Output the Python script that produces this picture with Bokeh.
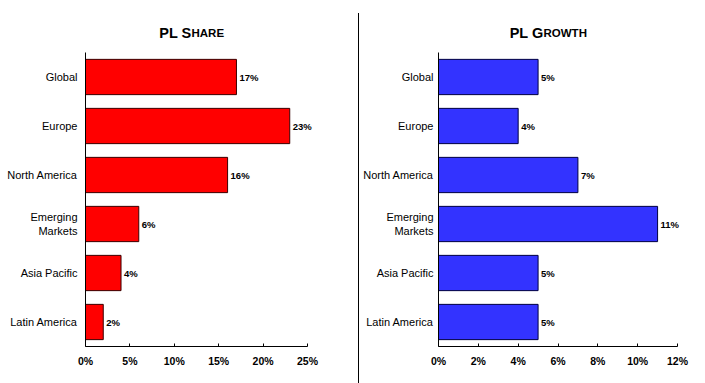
from bokeh.plotting import figure
from bokeh.layouts import row, column
from bokeh.models import FactorRange, Range1d, FixedTicker, PrintfTickFormatter, ColumnDataSource, LabelSet, Div
from bokeh.core.properties import value
from bokeh.embed import file_html
from bokeh.resources import INLINE

categories = ["Global", "Europe", "North America", "Emerging Markets", "Asia Pacific", "Latin America"]
category_labels = ["Global", "Europe", "North America", "Emerging\nMarkets", "Asia Pacific", "Latin America"]
share_values = [17, 23, 16, 6, 4, 2]
growth_values = [5, 4, 7, 11, 5, 5]
share_ticks = [0, 5, 10, 15, 20, 25]
growth_ticks = [0, 2, 4, 6, 8, 10, 12]

FONT = "Liberation Sans"
TITLE_H = 52
MAIN_H = 331


def make_panel(values, ticks, axis_max, color, line_color, width, border_left,
               axis_px, frame_px, standoff):
    factors = list(reversed(category_labels))
    xmax = axis_max * frame_px / axis_px
    p = figure(width=width, height=MAIN_H, y_range=FactorRange(*factors),
               x_range=Range1d(0, xmax), toolbar_location=None, output_backend="svg",
               min_border_left=border_left, min_border_right=width - border_left - frame_px,
               min_border_top=0, min_border_bottom=MAIN_H - 294)
    p.outline_line_color = None
    p.grid.grid_line_color = None
    src = ColumnDataSource(dict(cat=category_labels, val=values,
                                lab=[f"{v}%" for v in values]))
    p.hbar(y="cat", right="val", left=0, height=0.72, source=src,
           fill_color=color, line_color=line_color, line_width=1)
    labels = LabelSet(x="val", y="cat", text="lab", source=src, x_offset=3,
                      text_baseline="middle", text_font=value(FONT), text_font_size="9.5px",
                      text_font_style="bold", text_color="black")
    p.add_layout(labels)

    p.xaxis.bounds = (0, axis_max)
    p.xaxis.ticker = FixedTicker(ticks=ticks)
    p.xaxis.formatter = PrintfTickFormatter(format="%d%%")
    p.xaxis.major_label_text_font = FONT
    p.xaxis.major_label_text_font_style = "bold"
    p.xaxis.major_label_text_font_size = "10.5px"
    p.xaxis.major_label_text_color = "black"
    p.xaxis.major_tick_in = 3
    p.xaxis.major_tick_out = 0
    p.xaxis.minor_tick_line_color = None
    p.xaxis.axis_line_color = "black"
    p.xaxis.major_tick_line_color = "black"
    p.xaxis.major_label_standoff = 8

    p.yaxis.major_label_text_font = FONT
    p.yaxis.major_label_text_font_size = "11px"
    p.yaxis.major_label_text_color = "black"
    p.yaxis.major_tick_line_color = None
    p.yaxis.major_tick_in = 0
    p.yaxis.major_tick_out = 0
    p.yaxis.minor_tick_line_color = None
    p.yaxis.axis_line_color = "black"
    p.yaxis.major_label_standoff = standoff
    return p


def make_title(width, x0, x1, big, small, split_x):
    # the column aligns this frame with the chart frame below it (page x0..x1)
    t = figure(width=width, height=TITLE_H, x_range=Range1d(x0, x1), y_range=Range1d(TITLE_H, 0),
               toolbar_location=None, output_backend="svg", x_axis_type=None, y_axis_type=None,
               min_border_left=0, min_border_right=0, min_border_top=0, min_border_bottom=0)
    t.outline_line_color = None
    t.grid.grid_line_color = None
    t.text(x=[split_x], y=[32.3], text=[big], text_align="right", text_baseline="alphabetic",
           text_font=value(FONT), text_font_size="14.5px", text_font_style="bold", text_color="black")
    t.text(x=[split_x], y=[32.3], text=[small], text_align="left", text_baseline="alphabetic",
           text_font=value(FONT), text_font_size="11.5px", text_font_style="bold", text_color="black")
    return t


left = make_panel(share_values, share_ticks, 25, "#FF0000", "#3a0000", 358, 85, 222, 255, 8)
right = make_panel(growth_values, growth_ticks, 12, "#3333FF", "#000040", 346, 79, 239, 261, 5)

left_title = make_title(358, 85, 340, "PL S", "HARE", 191)
right_title = make_title(346, 438, 699, "PL G", "ROWTH", 543)

divider = Div(text="", width=1, height=TITLE_H + MAIN_H - 13, margin=(13, 0, 0, 0),
              styles={"background-color": "black"})

layout = row(column(left_title, left, spacing=0), divider, column(right_title, right, spacing=0), spacing=0)
open("out.html", "w").write(file_html(layout, INLINE))
